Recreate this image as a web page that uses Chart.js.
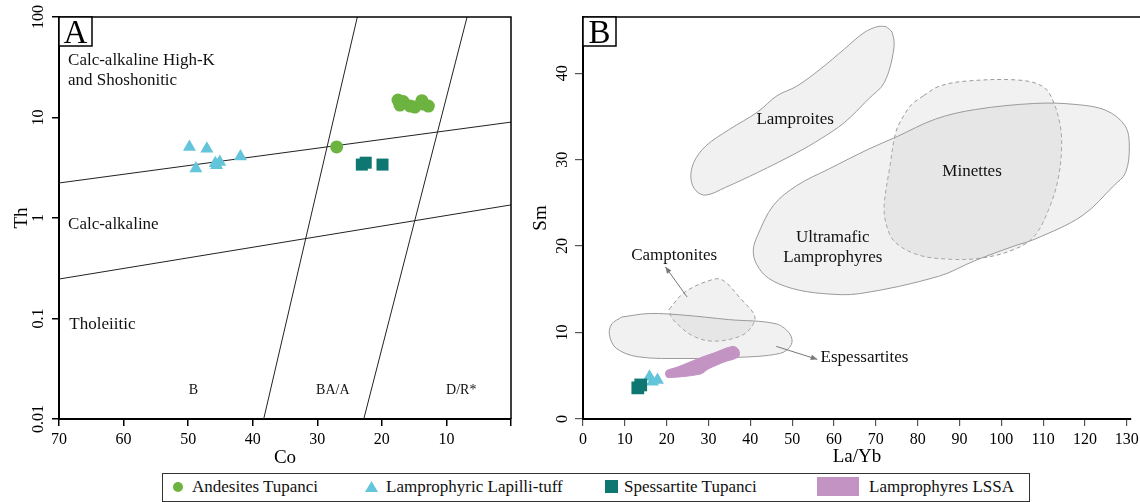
<!DOCTYPE html>
<html>
<head>
<meta charset="utf-8">
<script src="https://cdn.jsdelivr.net/npm/chart.js@4.4.0/dist/chart.umd.min.js"></script>
<style>
  body { margin: 0; background: #fff; width: 1140px; height: 502px; position: relative; overflow: hidden; font-family: 'Liberation Serif', serif; }
  #wrapA { position: absolute; left: 0; top: 0; width: 530px; height: 472px; }
  #wrapB { position: absolute; left: 530px; top: 0; width: 610px; height: 472px; }
  #legend { position: absolute; left: 162px; top: 473px; width: 868px; height: 29px; border: 1.5px solid #333; box-sizing: border-box; font-size: 17px; font-family: 'Liberation Serif', serif; }
  .item { position: absolute; top: 0; height: 26px; line-height: 26px; white-space: nowrap; color: #111; }
  .ico { position: absolute; }
</style>
</head>
<body>
<div id="wrapA"><canvas id="grafikA" width="530" height="472"></canvas></div>
<div id="wrapB"><canvas id="grafikB" width="610" height="472"></canvas></div>
<div id="legend">
  <span class="ico" style="left:10px;top:8px;width:10px;height:10px;border-radius:50%;background:#6db33f"></span>
  <span class="item" style="left:29px">Andesites Tupanci</span>
  <span class="ico" style="left:202px;top:7px;width:13px;height:11px;background:#63c5da;clip-path:polygon(50% 0,100% 100%,0 100%)"></span>
  <span class="item" style="left:223px">Lamprophyric Lapilli-tuff</span>
  <span class="ico" style="left:442px;top:6px;width:13px;height:13px;background:#0e7771"></span>
  <span class="item" style="left:461px">Spessartite Tupanci</span>
  <span class="ico" style="left:654px;top:3px;width:42px;height:19px;background:#c393c4"></span>
  <span class="item" style="left:706px">Lamprophyres LSSA</span>
</div>
<script>
// ---------- Panel A: Th vs Co ----------
const coTicks = [70, 60, 50, 40, 30, 20, 10, 0];
const thTicks = [0.01, 0.1, 1, 10, 100];

const andesitesCo = [17.5, 17.2, 16.7, 15.6, 14.9, 13.8, 13.6, 12.8, 27.0];
const andesitesTh = [14.9, 13.3, 14.4, 13.0, 12.7, 14.7, 13.6, 13.0, 5.1];
const lapilliCo = [49.8, 47.1, 48.8, 45.8, 45.1, 45.6, 41.9];
const lapilliTh = [5.1, 4.9, 3.1, 3.5, 3.6, 3.35, 4.1];
const spessCo = [23.1, 22.5, 19.9];
const spessTh = [3.4, 3.55, 3.4];

// boundary lines of the diagram
const bndHighKCo = [70, 0];
const bndHighKTh = [2.23, 9.0];
const bndTholCo = [70, 0];
const bndTholTh = [0.247, 1.35];
const bndBasaltCo = [38.3, 23.8];
const bndBasaltTh = [0.01, 100];
const bndDaciteCo = [22.8, 6.8];
const bndDaciteTh = [0.01, 100];

// ---------- Panel B: Sm vs La/Yb ----------
const laybTicks = [0, 10, 20, 30, 40, 50, 60, 70, 80, 90, 100, 110, 120, 130];
const smTicks = [0, 10, 20, 30, 40];

const lapilliLaYb = [15.9, 17.8, 16.6];
const lapilliSm = [4.9, 4.5, 4.3];
const spessLaYb = [13.8, 13.1];
const spessSm = [3.94, 3.6];

const lssaField = [[19.7, 5.2], [20.2, 4.8], [28.1, 5.2], [30, 5.8], [33.8, 6.6], [37.2, 7.2], [37.2, 8.0],
  [35.8, 8.4], [31.1, 7.6], [28.7, 7.2], [22.5, 6.0], [20.0, 5.6], [19.7, 5.2]];
const lamproitesField = [[72.4, 45.4], [73.9, 44.7], [74.3, 42.8], [72.0, 38.9], [68.2, 37.0], [62.5, 34.3],
  [56.8, 32.4], [51.1, 30.8], [41.7, 28.5], [34.1, 26.8], [29.4, 25.9], [27.0, 26.4], [25.8, 27.8], [26.5, 29.7],
  [29.4, 31.6], [35.0, 33.5], [41.7, 35.5], [46.4, 37.4], [51.1, 38.5], [56.8, 40.5], [62.5, 42.8], [67.2, 44.7],
  [70.5, 45.4], [72.4, 45.4]];
const minettesField = [[81.4, 37.4], [85.2, 38.5], [91.9, 39.1], [104.2, 39.2], [109.8, 38.5], [112.2, 37.0],
  [114.1, 33.9], [114.4, 31.2], [113.6, 27.8], [111.7, 24.7], [108, 21.2], [103, 19.6], [95, 18.6], [87, 18.5],
  [80, 19.0], [74.5, 20.5], [72.5, 22.5], [72.0, 24.7], [73.4, 29.3], [74.8, 33.2], [76.7, 35.1], [78.6, 36.4], [81.4, 37.4]];
const ultramaficField = [[74.8, 32.6], [84.3, 34.7], [93.8, 35.8], [108.0, 36.5], [117.4, 36.4], [125.0, 35.7],
  [129.6, 33.9], [130.6, 31.5], [129.7, 28.5], [126.9, 27.0], [119.3, 23.5], [108, 20.8], [103, 20.0], [93.6, 18.3],
  [85, 16.5], [66.1, 14.5], [57.6, 14.5], [50, 15.1], [44.3, 16.3], [41.5, 17.9], [40.7, 19.5], [41.7, 21.2],
  [45.5, 24.7], [51.1, 27.0], [58.7, 28.9], [68.2, 31.2], [74.8, 32.6]];
const camptonitesField = [[20.6, 12.7], [24.4, 14.7], [31.5, 16.2], [33.9, 15.9], [37.7, 13.9], [41, 12.0],
  [40.5, 10.8], [37.7, 9.6], [31.1, 9.0], [26.3, 9.6], [22.5, 11.0], [21.1, 11.8], [20.6, 12.7]];
const espessartitesField = [[9.3, 11.8], [15.9, 12.2], [24.4, 12.0], [34.8, 11.5], [46.2, 11.0], [49.5, 9.8],
  [49.8, 8.6], [47.2, 7.6], [35.8, 7.1], [24.4, 7.0], [13.1, 7.2], [7.9, 8.2], [6.3, 9.8], [6.9, 11.0], [9.3, 11.8]];

const toPts = (xs, ys) => xs.map((x, i) => ({ x: x, y: ys[i] }));
const pairPts = arr => arr.map(p => ({ x: p[0], y: p[1] }));

const serif = '"Liberation Serif", "Times New Roman", serif';

// rotated y tick labels, frame box and panel letter
const panelDecor = {
  id: 'panelDecor',
  afterDraw(chart, args, opts) {
    const ctx = chart.ctx;
    const area = chart.chartArea;
    const y = chart.scales.y;
    ctx.save();
    // frame
    ctx.strokeStyle = '#000';
    ctx.lineWidth = 1.5;
    ctx.beginPath();
    ctx.moveTo(area.left, area.top);
    ctx.lineTo(opts.frameRight ? area.right : chart.width, area.top);
    if (opts.frameRight) ctx.lineTo(area.right, area.bottom);
    ctx.stroke();
    // panel letter
    ctx.fillStyle = '#fff';
    ctx.fillRect(area.left, area.top, 33, 29);
    ctx.strokeRect(area.left, area.top, 33, 29);
    ctx.fillStyle = '#000';
    ctx.font = '33px ' + serif;
    ctx.textAlign = 'center';
    ctx.textBaseline = 'alphabetic';
    ctx.fillText(opts.letter, area.left + 16.5, area.top + 26);
    // y tick labels, rotated
    ctx.font = '16px ' + serif;
    ctx.textBaseline = 'middle';
    opts.yLabels.forEach(v => {
      const py = y.getPixelForValue(v);
      ctx.save();
      ctx.translate(opts.yLabelX, py);
      ctx.rotate(-Math.PI / 2);
      ctx.fillText(String(v), 0, 0);
      ctx.restore();
    });
    ctx.restore();
  }
};

// field names and arrows
const fieldLabels = {
  id: 'fieldLabels',
  afterDatasetsDraw(chart, args, opts) {
    const ctx = chart.ctx;
    const sx = chart.scales.x, sy = chart.scales.y;
    ctx.save();
    ctx.fillStyle = '#111';
    ctx.textBaseline = 'middle';
    opts.texts.forEach(t => {
      ctx.font = t.size + 'px ' + serif;
      ctx.textAlign = t.align || 'center';
      ctx.fillText(t.text, sx.getPixelForValue(t.x), sy.getPixelForValue(t.y));
    });
    (opts.arrows || []).forEach(a => {
      const x1 = sx.getPixelForValue(a[0]), y1 = sy.getPixelForValue(a[1]);
      const x2 = sx.getPixelForValue(a[2]), y2 = sy.getPixelForValue(a[3]);
      ctx.strokeStyle = '#777';
      ctx.fillStyle = '#777';
      ctx.lineWidth = 1;
      ctx.beginPath();
      ctx.moveTo(x1, y1);
      ctx.lineTo(x2, y2);
      ctx.stroke();
      const ang = Math.atan2(y2 - y1, x2 - x1);
      ctx.beginPath();
      ctx.moveTo(x2, y2);
      ctx.lineTo(x2 - 7 * Math.cos(ang - 0.4), y2 - 7 * Math.sin(ang - 0.4));
      ctx.lineTo(x2 - 7 * Math.cos(ang + 0.4), y2 - 7 * Math.sin(ang + 0.4));
      ctx.closePath();
      ctx.fill();
    });
    ctx.restore();
  }
};

function lineSet(xs, ys) {
  return { data: toPts(xs, ys), showLine: true, borderColor: '#222', borderWidth: 1, pointRadius: 0, fill: false, order: 5 };
}

function fieldSet(arr, dashed) {
  return {
    data: pairPts(arr), showLine: true, tension: 0.35, pointRadius: 0,
    borderColor: '#9a9a9a', borderWidth: 1, borderDash: dashed ? [4, 3] : [],
    backgroundColor: 'rgba(200, 200, 200, 0.25)', fill: 'shape', order: 10
  };
}

// keep the chart area fixed: no extra room for overflowing first/last labels
function fixX(s) {
  s.height = 53;
  s.paddingLeft = 0;
  s.paddingRight = 0;
}

// Grafik A
const ctxA = document.getElementById('grafikA');
let grafikA = new Chart(ctxA, {
  type: 'scatter',
  data: {
    datasets: [
      lineSet(bndHighKCo, bndHighKTh),
      lineSet(bndTholCo, bndTholTh),
      lineSet(bndBasaltCo, bndBasaltTh),
      lineSet(bndDaciteCo, bndDaciteTh),
      { label: 'Andesites Tupanci', data: toPts(andesitesCo, andesitesTh), pointStyle: 'circle', pointRadius: 6.5,
        backgroundColor: '#6db33f', borderWidth: 0, order: 1 },
      { label: 'Lamprophyric Lapilli-tuff', data: toPts(lapilliCo, lapilliTh), pointStyle: 'triangle', pointRadius: 7.5,
        backgroundColor: '#63c5da', borderWidth: 0, order: 1 },
      { label: 'Spessartite Tupanci', data: toPts(spessCo, spessTh), pointStyle: 'rect', pointRadius: 8.5,
        backgroundColor: '#0e7771', borderWidth: 0, order: 1 }
    ]
  },
  options: {
    responsive: false,
    animation: false,
    layout: { padding: { top: 17, right: 19, left: 0, bottom: 0 } },
    plugins: {
      legend: { display: false },
      tooltip: { enabled: false },
      panelDecor: { letter: 'A', frameRight: true, yLabels: thTicks, yLabelX: 39 },
      fieldLabels: {
        texts: [
          { text: 'Calc-alkaline High-K', x: 68.6, y: 37, size: 17, align: 'left' },
          { text: 'and Shoshonitic', x: 68.6, y: 23.5, size: 17, align: 'left' },
          { text: 'Calc-alkaline', x: 68.6, y: 0.86, size: 17, align: 'left' },
          { text: 'Tholeiitic', x: 68.4, y: 0.088, size: 17, align: 'left' },
          { text: 'B', x: 49.2, y: 0.0195, size: 14 },
          { text: 'BA/A', x: 27.6, y: 0.0195, size: 14 },
          { text: 'D/R*', x: 7.7, y: 0.0195, size: 14 }
        ]
      }
    },
    scales: {
      x: {
        type: 'linear', min: 0, max: 70, reverse: true,
        afterBuildTicks: s => { s.ticks = coTicks.map(v => ({ value: v })); },
        afterFit: fixX,
        ticks: { font: { family: serif, size: 16 }, color: '#000', padding: 4, maxRotation: 0,
          callback: v => (v === 0 ? '' : v) },
        grid: { drawOnChartArea: false, drawTicks: true, tickLength: 7, color: '#000', lineWidth: 1.5 },
        border: { display: true, color: '#000', width: 2 },
        title: { display: true, text: 'Co', font: { family: serif, size: 19 }, color: '#000', padding: { top: 0, bottom: 3 } }
      },
      y: {
        type: 'logarithmic', min: 0.01, max: 100,
        afterBuildTicks: s => { s.ticks = thTicks.map(v => ({ value: v })); },
        afterFit: s => { s.width = 59; },
        ticks: { display: false },
        grid: { drawOnChartArea: false, drawTicks: true, tickLength: 7, color: '#000', lineWidth: 1.5 },
        border: { display: true, color: '#000', width: 2 },
        title: { display: true, text: 'Th', font: { family: serif, size: 19 }, color: '#000', padding: { top: 11, bottom: 0 } }
      }
    }
  },
  plugins: [panelDecor, fieldLabels]
});

// Grafik B
const ctxB = document.getElementById('grafikB');
let grafikB = new Chart(ctxB, {
  type: 'scatter',
  data: {
    datasets: [
      fieldSet(ultramaficField, false),
      fieldSet(lamproitesField, false),
      fieldSet(minettesField, true),
      fieldSet(espessartitesField, false),
      fieldSet(camptonitesField, true),
      { label: 'Lamprophyres LSSA', data: pairPts(lssaField), showLine: true, tension: 0.3, pointRadius: 0,
        borderColor: '#c393c4', borderWidth: 1, backgroundColor: '#c393c4', fill: 'shape', order: 3 },
      { label: 'Lamprophyric Lapilli-tuff', data: toPts(lapilliLaYb, lapilliSm), pointStyle: 'triangle', pointRadius: 7.5,
        backgroundColor: '#63c5da', borderWidth: 0, order: 2 },
      { label: 'Spessartite Tupanci', data: toPts(spessLaYb, spessSm), pointStyle: 'rect', pointRadius: 9,
        backgroundColor: '#0e7771', borderWidth: 0, order: 1 }
    ]
  },
  options: {
    responsive: false,
    animation: false,
    layout: { padding: { top: 17, right: 3, left: 0, bottom: 0 } },
    plugins: {
      legend: { display: false },
      tooltip: { enabled: false },
      panelDecor: { letter: 'B', frameRight: false, yLabels: smTicks, yLabelX: 33 },
      fieldLabels: {
        texts: [
          { text: 'Lamproites', x: 50.7, y: 34.6, size: 17 },
          { text: 'Minettes', x: 93, y: 28.6, size: 17 },
          { text: 'Ultramafic', x: 59.7, y: 21.0, size: 17 },
          { text: 'Lamprophyres', x: 59.7, y: 18.7, size: 17 },
          { text: 'Camptonites', x: 21.8, y: 18.9, size: 17 },
          { text: 'Espessartites', x: 56.8, y: 7.1, size: 17, align: 'left' }
        ],
        arrows: [[24.9, 14.1, 19.7, 17.6], [46.2, 8.4, 56.0, 6.9]]
      }
    },
    scales: {
      x: {
        type: 'linear', min: 0, max: 131,
        afterBuildTicks: s => { s.ticks = laybTicks.map(v => ({ value: v })); },
        afterFit: fixX,
        ticks: { font: { family: serif, size: 16 }, color: '#000', padding: 4, maxRotation: 0 },
        grid: { drawOnChartArea: false, drawTicks: true, tickLength: 7, color: '#555', lineWidth: 1.2 },
        border: { display: true, color: '#000', width: 2 },
        title: { display: true, text: 'La/Yb', font: { family: serif, size: 19 }, color: '#000', padding: { top: 0, bottom: 4 } }
      },
      y: {
        type: 'linear', min: 0, max: 46.5,
        afterBuildTicks: s => { s.ticks = smTicks.map(v => ({ value: v })); },
        afterFit: s => { s.width = 53; },
        ticks: { display: false },
        grid: { drawOnChartArea: false, drawTicks: true, tickLength: 8, color: '#555', lineWidth: 1.2 },
        border: { display: true, color: '#000', width: 2 },
        title: { display: true, text: 'Sm', font: { family: serif, size: 19 }, color: '#000', padding: { top: 0, bottom: 0 } }
      }
    }
  },
  plugins: [panelDecor, fieldLabels]
});
</script>
</body>
</html>
